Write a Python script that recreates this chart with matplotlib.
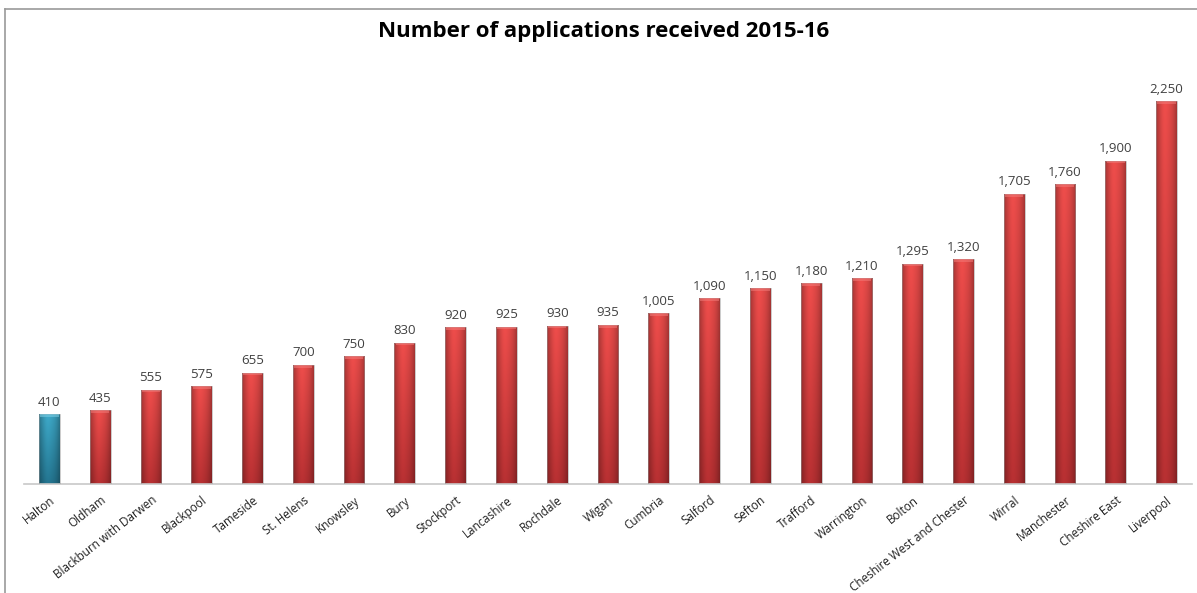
import numpy as np
import matplotlib
matplotlib.use("Agg")
import matplotlib.pyplot as plt
from matplotlib.patches import Rectangle
from matplotlib.colors import to_rgb

authorities = [
    "Halton", "Oldham", "Blackburn with Darwen", "Blackpool", "Tameside",
    "St. Helens", "Knowsley", "Bury", "Stockport", "Lancashire", "Rochdale",
    "Wigan", "Cumbria", "Salford", "Sefton", "Trafford", "Warrington",
    "Bolton", "Cheshire West and Chester", "Wirral", "Manchester",
    "Cheshire East", "Liverpool",
]
applications = [
    410, 435, 555, 575, 655, 700, 750, 830, 920, 925, 930, 935, 1005,
    1090, 1150, 1180, 1210, 1295, 1320, 1705, 1760, 1900, 2250,
]
highlight = "Halton"

plt.rcParams["font.family"] = ["Open Sans", "DejaVu Sans"]

fig = plt.figure(figsize=(11.97, 5.93), dpi=100)
ax = fig.add_axes([24 / 1197, 109 / 593, 1168 / 1197, 0.7175])


def cylinder_image(top_hex, bottom_hex, nx=48, ny=96):
    """Shaded fill: vertical fade from top colour to bottom colour,
    darkened toward the left and right edges like a cylinder."""
    top = np.array(to_rgb(top_hex))
    bot = np.array(to_rgb(bottom_hex))
    t = np.linspace(0, 1, ny)[:, None, None]          # 0 = top row
    base = top * (1 - t) + bot * t
    u = np.linspace(-1, 1, nx)[None, :, None]
    shade = 1.0 - 0.28 * np.abs(u) ** 2.2 + 0.05 * np.exp(-((u + 0.2) / 0.35) ** 2)
    return np.clip(base * shade, 0, 1)


red_img = cylinder_image("#e44a48", "#b02e30")
teal_img = cylinder_image("#3ba2c0", "#22708a")

x = np.arange(len(authorities))
bars = ax.bar(x, applications, width=0.41, color="none", edgecolor="none", zorder=2)

for name, bar, val in zip(authorities, bars, applications):
    img = teal_img if name == highlight else red_img
    x0, w, h = bar.get_x(), bar.get_width(), bar.get_height()
    im = ax.imshow(img, aspect="auto", extent=(x0, x0 + w, 0, h),
                   interpolation="bilinear", zorder=2)
    im.set_clip_path(Rectangle((x0, 0), w, h, transform=ax.transData))
    # thin grey outline giving a soft edge
    ax.add_patch(Rectangle((x0, 0), w, h, facecolor="none",
                           edgecolor="#9a9a9a", lw=0.6, alpha=0.6, zorder=3))
    # lighter rounded cap at the top of each bar
    cap_col = "#7fd0e6" if name == highlight else "#f27a78"
    ax.add_patch(Rectangle((x0 + w * 0.06, h - 16), w * 0.88, 16,
                           facecolor=cap_col, edgecolor="none", alpha=0.55, zorder=3))
    ax.text(x0 + w / 2, h + 32, f"{val:,}", ha="center", va="bottom",
            fontsize=9.5, color="#404040", zorder=4)

ax.set_xlim(-0.5, len(authorities) - 0.5)
ax.set_ylim(0, 2500)
ax.set_xticks(x)
ax.set_xticklabels(authorities, rotation=38, ha="right", rotation_mode="anchor",
                   fontsize=8.4, color="#202020")
ax.tick_params(axis="x", length=0, pad=7)
ax.set_yticks([])
for s in ["top", "right", "left"]:
    ax.spines[s].set_visible(False)
ax.spines["bottom"].set_color("#c8c8c8")
ax.spines["bottom"].set_linewidth(1.2)

# chart border on the top and left edges
fig.add_artist(plt.Line2D([5 / 1197, 1], [1 - 9 / 593, 1 - 9 / 593],
                          transform=fig.transFigure, color="#9a9a9a", lw=1.2))
fig.add_artist(plt.Line2D([5 / 1197, 5 / 1197], [0, 1 - 9 / 593],
                          transform=fig.transFigure, color="#9a9a9a", lw=1.2))

fig.text(0.5045, 1 - 31 / 593, "Number of applications received 2015-16",
         ha="center", va="center", fontsize=16, fontweight="bold", color="#000000")

fig.savefig("out.png", dpi=100)
